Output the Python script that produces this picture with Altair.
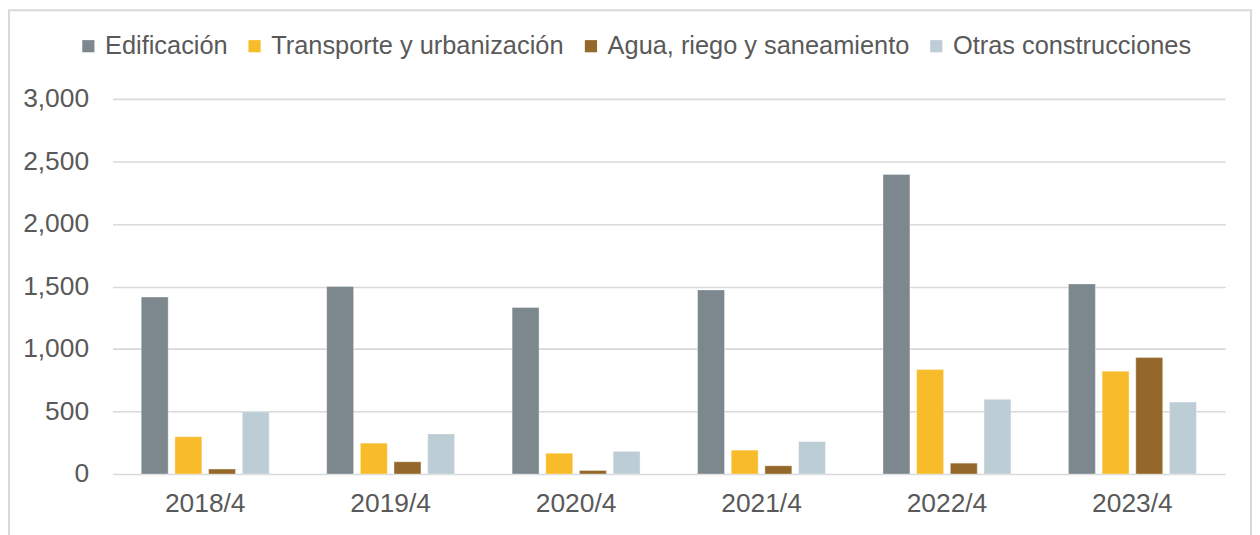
import altair as alt
import pandas as pd

periods = ["2018/4", "2019/4", "2020/4", "2021/4", "2022/4", "2023/4"]
series = ["Edificación", "Transporte y urbanización", "Agua, riego y saneamiento", "Otras construcciones"]
edificacion = [1415, 1500, 1332, 1472, 2395, 1520]
transporte = [298, 247, 167, 191, 835, 822]
agua = [40, 98, 29, 66, 87, 931]
otras = [497, 321, 181, 260, 597, 575]
colors = ["#7c878e", "#f8bc2b", "#94682b", "#bdcdd5"]
y_ticks = [0, 500, 1000, 1500, 2000, 2500, 3000]

rows = []
for name, vals in zip(series, [edificacion, transporte, agua, otras]):
    for p, v in zip(periods, vals):
        rows.append({"periodo": p, "serie": name, "valor": v})
df = pd.DataFrame(rows)

FONT = "Liberation Sans"
TXT = "#595959"
GRID = "#d9d9d9"
W, H = 1118, 377

bars = alt.Chart(df).mark_bar(stroke="white", strokeWidth=0.6, strokeOpacity=0.6).encode(
    x=alt.X("periodo:N", sort=periods, title=None,
            scale=alt.Scale(paddingInner=0.31, paddingOuter=0.155),
            axis=alt.Axis(labelAngle=0, labelFontSize=26.5, labelColor=TXT, labelFont=FONT,
                          labelPadding=17, ticks=False, domain=False, grid=False)),
    xOffset=alt.XOffset("serie:N", sort=series, scale=alt.Scale(paddingInner=0.2, paddingOuter=0)),
    y=alt.Y("valor:Q", title=None,
            scale=alt.Scale(domain=[0, 3000], nice=False),
            axis=alt.Axis(values=y_ticks, format=",d", labelFontSize=26.5, labelColor=TXT, labelFont=FONT,
                          labelPadding=24, ticks=False, domain=False, grid=True,
                          gridColor=GRID, gridWidth=1.6)),
    color=alt.Color("serie:N", sort=series,
                    scale=alt.Scale(domain=series, range=colors),
                    legend=alt.Legend(title=None, orient="none", direction="horizontal",
                                      legendX=-37, legendY=-66,
                                      symbolType="square", symbolSize=150, symbolStrokeWidth=0,
                                      labelFontSize=25.5, labelColor=TXT, labelFont=FONT,
                                      labelLimit=0, labelOffset=4, columnPadding=14,
                                      symbolOpacity=1)),
)

frame = alt.Chart(pd.DataFrame({"k": [0]})).mark_rect(
    fill=None, stroke=GRID, strokeWidth=2
).encode(
    x=alt.value(-104), x2=alt.value(W + 26), y=alt.value(-89), y2=alt.value(H + 80)
)

chart = alt.layer(frame, bars).properties(
    width=W, height=H,
    padding={"left": 105, "top": 90, "right": 27, "bottom": 60},
    autosize="none",
).configure(background="white").configure_view(stroke=None)

chart.save("out.html", embed_options={"renderer": "svg", "actions": False})
